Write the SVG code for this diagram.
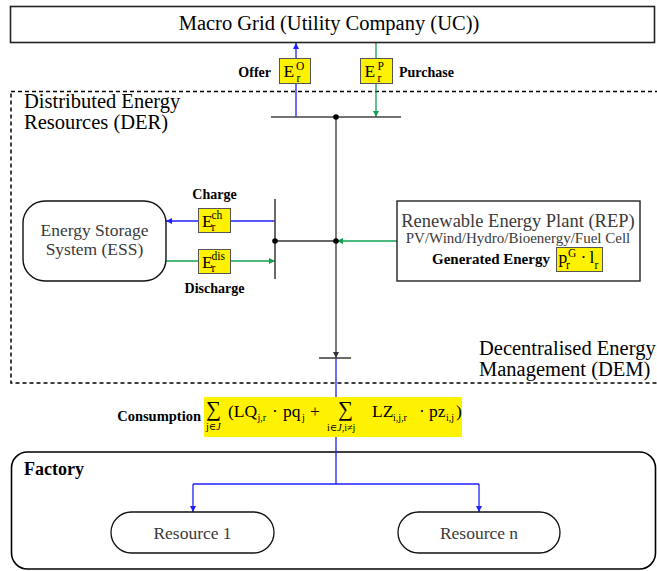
<svg xmlns="http://www.w3.org/2000/svg" width="657" height="571" viewBox="0 0 657 571" font-family="'Liberation Serif', 'Times New Roman', 'DejaVu Serif', serif">
<defs>
<style>
text { font-family: 'Liberation Serif', 'Times New Roman', Times, 'DejaVu Serif', serif; fill: #000; }
.lg { font-size: 20.5px; }
.lb { font-size: 14px; font-weight: bold; }
.gr { fill: #3a3a3a; }
.bus { stroke: #444; stroke-width: 1.6; fill: none; }
.blk { stroke: #333; stroke-width: 1.3; fill: none; }
.blue { stroke: #1f1fff; stroke-width: 1.3; fill: none; }
.green { stroke: #10a050; stroke-width: 1.3; fill: none; }
.ybox { fill: #fff200; stroke: #555; stroke-width: 1; }
.m { font-size: 17.5px; }
.s { font-size: 11.5px; }
.ss { font-size: 10px; }
.it { font-style: italic; }
</style>
<marker id="ab" viewBox="0 0 10 10" refX="10" refY="5" markerWidth="8" markerHeight="6" orient="auto" markerUnits="userSpaceOnUse"><path d="M0,0 L10,5 L0,10 z" fill="#1f1fff"/></marker>
<marker id="ag" viewBox="0 0 10 10" refX="10" refY="5" markerWidth="8" markerHeight="6" orient="auto" markerUnits="userSpaceOnUse"><path d="M0,0 L10,5 L0,10 z" fill="#10a050"/></marker>
<marker id="ak" viewBox="0 0 10 10" refX="10" refY="5" markerWidth="8" markerHeight="6" orient="auto" markerUnits="userSpaceOnUse"><path d="M0,0 L10,5 L0,10 z" fill="#333"/></marker>
</defs>
<rect width="657" height="571" fill="#fff"/>

<g id="der-region">
<rect x="11" y="91.5" width="660" height="291.5" fill="none" stroke="#000" stroke-width="1.5" stroke-dasharray="4,3"/>
<text class="lg" x="24" y="108">Distributed Energy</text>
<text class="lg" x="24" y="129">Resources (DER)</text>
<text class="lg" x="479" y="355">Decentralised Energy</text>
<text class="lg" x="479" y="376">Management (DEM)</text>
</g>

<g id="factory">
<rect x="11.5" y="452" width="644" height="117" rx="16" fill="none" stroke="#000" stroke-width="1.6"/>
<text x="24" y="475" style="font-size:18px;font-weight:bold">Factory</text>
</g>

<g id="connectors">
<path class="blue" d="M296,117 V43" marker-end="url(#ab)"/>
<path class="green" d="M376,42.5 V117" marker-end="url(#ag)"/>
<path class="blk" d="M336,117 V358" marker-end="url(#ak)"/>
<path class="blk" d="M275,241 H336"/>
<path class="blue" d="M275,221 H166" marker-end="url(#ab)"/>
<path class="green" d="M166,261 H275" marker-end="url(#ag)"/>
<path class="green" d="M397,241 H337" marker-end="url(#ag)"/>
<path class="blue" d="M336,358 V484 M193,484 H479"/>
<path class="blue" d="M193,484 V512" marker-end="url(#ab)"/>
<path class="blue" d="M479,484 V512" marker-end="url(#ab)"/>
</g>

<g id="buses">
<path class="bus" d="M271,117 H401"/>
<path class="bus" d="M275,199 V279"/>
<path class="bus" d="M319,358 H351"/>
<circle cx="336" cy="117" r="2.8" fill="#000"/>
<circle cx="336" cy="241" r="2.8" fill="#000"/>
<circle cx="275" cy="241" r="2.8" fill="#000"/>
</g>

<g id="macro-grid">
<rect x="10.5" y="6.5" width="644" height="36" fill="#fff" stroke="#222" stroke-width="1.6"/>
<text class="lg" x="329" y="30" text-anchor="middle">Macro Grid (Utility Company (UC))</text>
</g>

<g id="offer">
<text class="lb" x="271" y="77" text-anchor="end">Offer</text>
<rect class="ybox" x="279.5" y="58.5" width="31" height="25"/>
<text class="m" x="283.5" y="77">E</text>
<text class="s" x="296" y="70">O</text>
<text class="s" x="296.5" y="81.5">r</text>
</g>

<g id="purchase">
<rect class="ybox" x="360.5" y="58.5" width="32" height="25"/>
<text class="m" x="364.5" y="77">E</text>
<text class="s" x="377.5" y="70">P</text>
<text class="s" x="377.5" y="81.5">r</text>
<text class="lb" x="399" y="77">Purchase</text>
</g>

<g id="ess">
<rect x="23" y="201" width="143" height="80" rx="22" fill="#fff" stroke="#111" stroke-width="1.4"/>
<text class="gr" x="94.5" y="236" text-anchor="middle" style="font-size:17.5px">Energy Storage</text>
<text class="gr" x="94.5" y="255" text-anchor="middle" style="font-size:17.5px">System (ESS)</text>
</g>

<g id="charge">
<text class="lb" x="214.5" y="199" text-anchor="middle">Charge</text>
<rect class="ybox" x="198.5" y="208.5" width="32" height="24"/>
<text class="m" x="202" y="227">E</text>
<text class="s" x="211.5" y="219">ch</text>
<text class="s" x="211.5" y="230.5">r</text>
</g>

<g id="discharge">
<rect class="ybox" x="198.5" y="249.5" width="32" height="24"/>
<text class="m" x="202" y="268">E</text>
<text class="s" x="211.5" y="260">dis</text>
<text class="s" x="211.5" y="271.5">r</text>
<text class="lb" x="214.5" y="293" text-anchor="middle">Discharge</text>
</g>

<g id="rep">
<rect x="397" y="201" width="243" height="80" fill="#fff" stroke="#222" stroke-width="1.4"/>
<text class="gr" x="518" y="227" text-anchor="middle" style="font-size:18.5px">Renewable Energy Plant (REP)</text>
<text class="gr" x="518" y="243" text-anchor="middle" style="font-size:15px">PV/Wind/Hydro/Bioenergy/Fuel Cell</text>
<text class="lb" x="432" y="264" style="font-size:15px">Generated Energy</text>
<rect class="ybox" x="556.5" y="247.5" width="46" height="24"/>
<text class="m" x="558.5" y="263">p</text>
<text class="s" x="568" y="257">G</text>
<text class="s" x="566" y="268.5">r</text>
<text class="m" x="580.5" y="263">·</text>
<text class="m" x="589.5" y="263">l</text>
<text class="s" x="594.5" y="268.5">r</text>
</g>

<g id="consumption">
<text class="lb" x="201" y="421" text-anchor="end" style="font-size:14.5px">Consumption</text>
<rect x="204" y="397" width="258" height="40" fill="#fff200"/>
<text x="206" y="416" style="font-size:21px">∑</text>
<text class="ss" x="206" y="430">j∈<tspan class="it">J</tspan></text>
<text class="m" x="228" y="417">(LQ</text>
<text class="ss" x="257.5" y="421">j,r</text>
<text class="m" x="272" y="417">·</text>
<text class="m" x="283" y="417">pq</text>
<text class="ss" x="302" y="421">j</text>
<text class="m" x="310" y="417">+</text>
<text x="338" y="416" style="font-size:21px">∑</text>
<text class="ss" x="327" y="431">i∈<tspan class="it">J</tspan>,i≠j</text>
<text class="m" x="372" y="417">LZ</text>
<text class="ss" x="393" y="421">i,j,r</text>
<text class="m" x="419" y="417">·</text>
<text class="m" x="429" y="417">pz</text>
<text class="ss" x="446" y="421">i,j</text>
<text class="m" x="456" y="417">)</text>
</g>

<g id="resource-1">
<rect x="111" y="512" width="163" height="41" rx="20.5" fill="#fff" stroke="#111" stroke-width="1.3"/>
<text class="gr" x="192.5" y="538.5" text-anchor="middle" style="font-size:17.5px">Resource 1</text>
</g>

<g id="resource-n">
<rect x="398" y="512" width="162" height="41" rx="20.5" fill="#fff" stroke="#111" stroke-width="1.3"/>
<text class="gr" x="479" y="538.5" text-anchor="middle" style="font-size:17.5px">Resource n</text>
</g>
</svg>
